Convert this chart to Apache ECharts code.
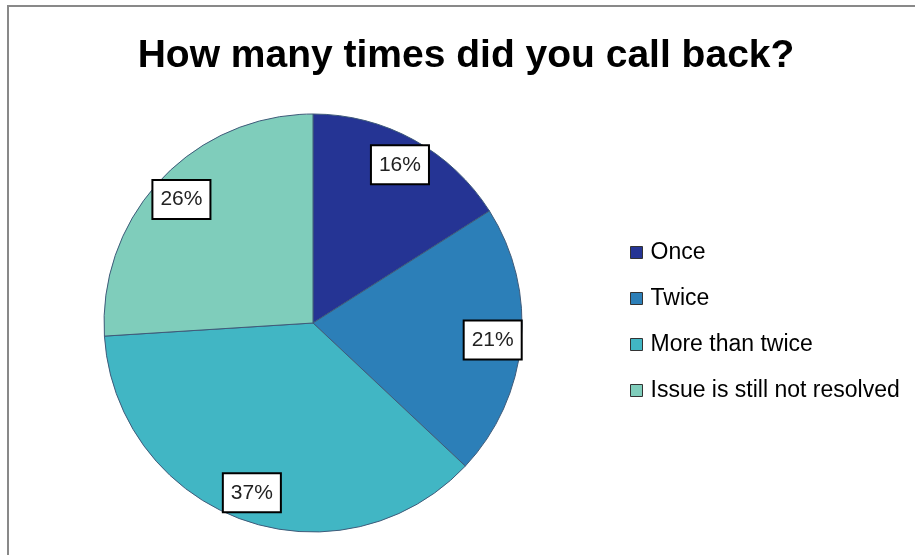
<!DOCTYPE html>
<html>
<head>
<meta charset="utf-8">
<script src="https://cdn.jsdelivr.net/npm/echarts@6/dist/echarts.min.js"></script>
<style>
html,body{margin:0;padding:0;background:#fff;}
#chart{width:915px;height:555px;}
</style>
</head>
<body>
<div id="chart"></div>
<script>
const categories = ['Once', 'Twice', 'More than twice', 'Issue is still not resolved'];
const values = [16, 21, 37, 26];
const colors = ['#253494', '#2c7fb8', '#41b6c4', '#7fcdbb'];
const titleText = 'How many times did you call back?';

const pieData = categories.map((name, i) => ({ name: name, value: values[i], itemStyle: { color: colors[i] } }));

const chart = echarts.init(document.getElementById('chart'), null, { renderer: 'canvas' });
const FONT = 'Liberation Sans, Arial, sans-serif';
chart.setOption({
  backgroundColor: '#fff',
  animation: false,
  title: {
    text: titleText,
    left: 461, top: 32, textAlign: 'center',
    textStyle: { fontFamily: FONT, fontWeight: 'bold', fontSize: 39, color: '#000' }
  },
  graphic: [{
    type: 'rect', silent: true,
    shape: { x: 8, y: 6, width: 1200, height: 1200 },
    style: { fill: 'none', stroke: '#898989', lineWidth: 2 }
  }],
  legend: {
    orient: 'vertical', left: 625, top: 236,
    itemWidth: 12, itemHeight: 12, itemGap: 23,
    icon: 'rect',
    itemStyle: { borderColor: '#333', borderWidth: 1 },
    textStyle: { fontFamily: FONT, fontSize: 23, color: '#000', padding: [0, 0, 0, 3] },
    data: categories
  },
  series: [{
    type: 'pie', center: [313, 323], radius: 209,
    startAngle: 90, clockwise: true,
    data: pieData,
    label: { show: false }, labelLine: { show: false },
    itemStyle: { borderColor: '#3f5b7a', borderWidth: 1 },
    emphasis: { disabled: true }
  }, {
    type: 'pie', center: [313, 323], radius: [146, 209],
    startAngle: 90, clockwise: true, silent: true,
    legendHoverLink: false,
    data: pieData.map(d => ({ name: d.name, value: d.value, itemStyle: { color: 'rgba(0,0,0,0)' } })),
    itemStyle: { borderWidth: 0 },
    label: {
      show: true, position: 'inside',
      formatter: p => p.value + '%',
      fontFamily: FONT, fontSize: 21, color: '#222',
      backgroundColor: '#fff', borderColor: '#000', borderWidth: 2,
      padding: [9, 7, 7, 7]
    },
    labelLine: { show: false },
    emphasis: { disabled: true }
  }]
});
</script>
</body>
</html>
